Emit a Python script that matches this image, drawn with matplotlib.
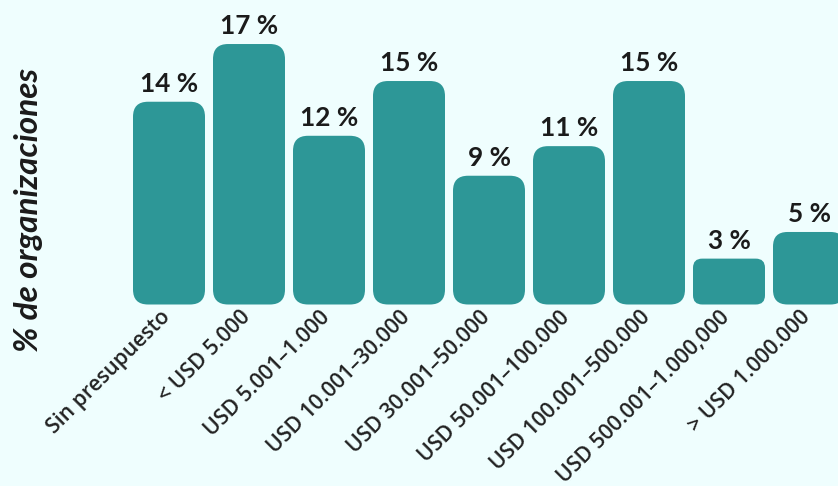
import matplotlib
matplotlib.use("Agg")
import matplotlib.pyplot as plt
import matplotlib.transforms as mtransforms
from matplotlib.patches import FancyBboxPatch

# datos: rangos de presupuesto anual
categorias = ["Sin presupuesto", "< USD 5.000", "USD 5.001–1.000", "USD 10.001–30.000",
              "USD 30.001–50.000", "USD 50.001–100.000", "USD 100.001–500.000",
              "USD 500.001–1.000,000", "> USD 1.000.000"]
porcentajes = [13.7, 17.6, 11.4, 15.1, 8.7, 10.7, 15.1, 3.1, 4.9]   # altura de las barras
etiquetas = ["14 %", "17 %", "12 %", "15 %", "9 %", "11 %", "15 %", "3 %", "5 %"]

fondo = "#effefe"
verde = "#2d9797"
texto = "#1b1b1b"

W, H = 838, 486
fig = plt.figure(figsize=(W / 100, H / 100), dpi=100)
fig.patch.set_facecolor(fondo)

# ejes en px: base de barras en y=304.5 desde arriba
ax = fig.add_axes([0, (H - 304.5) / H, 1, 304.5 / H])
ax.set_facecolor(fondo)
px_x = 80.0    # px por categoria
px_y = 14.8    # px por punto porcentual
x0 = -169 / px_x
ax.set_xlim(x0, x0 + W / px_x)
ax.set_ylim(0, 304.5 / px_y)

ancho = 0.9
for i, v in enumerate(porcentajes):
    h_px = v * px_y
    r_px = min(15, h_px * 0.2)
    box = FancyBboxPatch((i - ancho / 2, 0), ancho, v,
                         boxstyle=f"round,pad=0,rounding_size={r_px / px_x}",
                         mutation_aspect=px_x / px_y,
                         fc=verde, ec="none")
    ax.add_patch(box)
    ax.text(i, v + 6 / px_y, etiquetas[i], ha="center", va="bottom",
            fontsize=18.8, fontweight="bold", family="Lato", color=texto)

ax.set_xticks(range(len(categorias)))
ax.set_xticklabels(categorias, rotation=45, ha="right", va="center",
                   rotation_mode="anchor", fontsize=15.3, fontweight=600,
                   family="Open Sans", color="#222222")
ax.tick_params(axis="x", length=0, pad=7)
desplaza = mtransforms.ScaledTranslation(-2 / 100, 0, fig.dpi_scale_trans)
for lab in ax.get_xticklabels():
    lab.set_transform(lab.get_transform() + desplaza)
ax.set_yticks([])
for s in ax.spines.values():
    s.set_visible(False)

fig.text(29 / W, 1 - 210 / H, "% de organizaciones", rotation=90, ha="center", va="center",
         fontsize=24, fontweight="bold", style="italic", family="Lato", color=texto)

fig.savefig("out.png", dpi=100, facecolor=fondo)
